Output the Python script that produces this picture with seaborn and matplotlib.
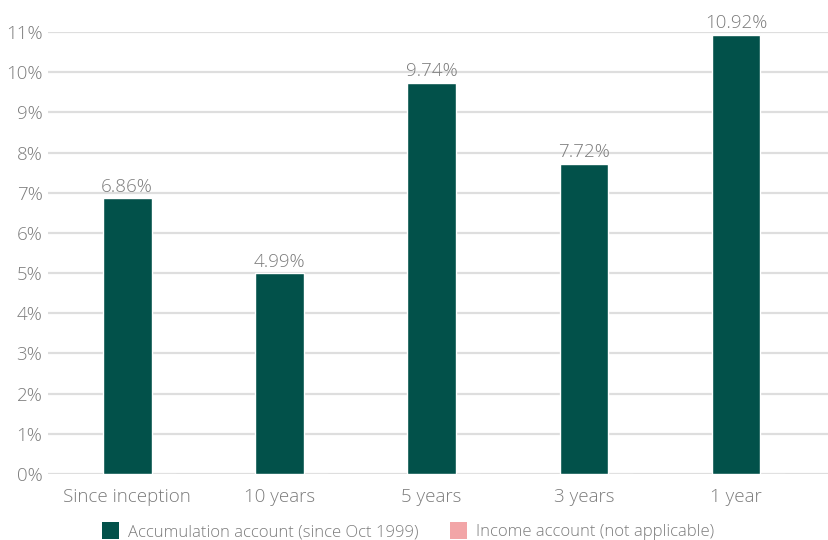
import matplotlib
matplotlib.use("Agg")
import matplotlib.pyplot as plt
from matplotlib.patches import Patch
import seaborn as sns
import pandas as pd

periods = ["Since inception", "10 years", "5 years", "3 years", "1 year"]
accumulation = [6.86, 4.99, 9.74, 7.72, 10.92]
income = [0.0, 0.0, 0.0, 0.0, 0.0]
series_names = ["Accumulation account (since Oct 1999)", "Income account (not applicable)"]
y_ticks = list(range(0, 12))

green = "#02514a"
pink = "#f2a5a7"
grey_text = "#7c7c7c"

df = pd.DataFrame({
    "period": periods * 2,
    "value": accumulation + income,
    "series": [series_names[0]] * len(periods) + [series_names[1]] * len(periods),
})

sns.set_theme(style="white")
plt.rcParams["font.family"] = ["Open Sans", "DejaVu Sans"]
plt.rcParams["font.weight"] = "light"

fig = plt.figure(figsize=(8.29, 5.40), dpi=100)
ax = fig.add_axes([48 / 829, 66 / 540, 781 / 829, 442 / 540])

sns.barplot(data=df, x="period", y="value", hue="series", order=periods,
            hue_order=series_names, palette=[green, pink], width=0.64,
            dodge=True, legend=False, ax=ax, saturation=1)

# green bars sit centred on each category, pink ones just to the right
n = len(periods)
for p in ax.patches[:n]:
    p.set_x(p.get_x() + 0.16)
    p.set_zorder(3)
for p in ax.patches[n:]:
    p.set_zorder(2)
    p.set_height(0.012)
    p.set_alpha(0.6)

for i, v in enumerate(accumulation):
    ax.text(i, v + 0.07, f"{v:.2f}%", ha="center", va="bottom",
            fontsize=13.5, color=grey_text, clip_on=False)

ax.set_ylim(0, 11)
ax.set_xlim(-0.52, 4.61)
ax.set_yticks(y_ticks)
ax.set_yticklabels([f"{t}%" for t in y_ticks])
ax.yaxis.grid(True, color="#dedede", linewidth=1.6)
ax.set_axisbelow(True)
for s in ax.spines.values():
    s.set_visible(False)
ax.tick_params(axis="y", length=0, pad=4, labelsize=13.5, labelcolor=grey_text)
ax.tick_params(axis="x", length=0, pad=10, labelsize=13.5, labelcolor=grey_text)
ax.set_xlabel("")
ax.set_ylabel("")

handles = [Patch(facecolor=green, edgecolor="none"), Patch(facecolor=pink, edgecolor="none")]
leg = fig.legend(handles, series_names, loc="lower center", bbox_to_anchor=(0.492, -0.028),
                 ncol=2, frameon=False, fontsize=12.0, handlelength=1.05, handleheight=1.15,
                 handletextpad=0.5, columnspacing=1.9)
for t in leg.get_texts():
    t.set_color(grey_text)

fig.savefig("out.png", dpi=100)
